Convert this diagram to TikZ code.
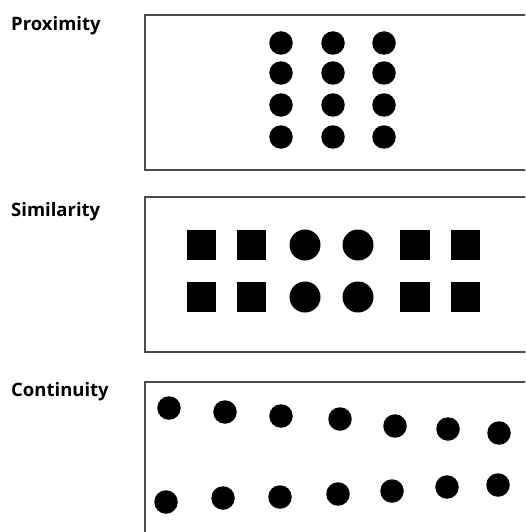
\documentclass[tikz,border=0pt]{standalone}
\usepackage{fontspec}
\setmainfont{Open Sans}
\begin{document}
\begin{tikzpicture}[x=1pt,y=-1pt,
  panel/.style={draw=black!70,line width=2pt},
  dot/.style={circle,fill=black,inner sep=0pt,minimum size=23.5pt},
  bigdot/.style={circle,fill=black,inner sep=0pt,minimum size=31pt},
  sq/.style={rectangle,fill=black,inner sep=0pt,minimum size=29.5pt},
  lbl/.style={anchor=west,inner sep=0pt,font=\fontsize{18.5pt}{20pt}\selectfont\bfseries}]
\useasboundingbox (0,0) rectangle (525,532);
\clip (0,0) rectangle (525,532);
\fill[white] (0,0) rectangle (525,532);
% labels
\node[lbl] (l1) at (11,26) {Proximity};
\node[lbl] (l2) at (11,212) {Similarity};
\node[lbl] (l3) at (11,392) {Continuity};
% panels
\draw[panel] (540,15.5) -- (144.5,15.5) -- (144.5,169.5) -- (540,169.5);
\draw[panel] (540,197) -- (144.5,197) -- (144.5,352) -- (540,352);
\draw[panel] (540,381.5) -- (144.5,381.5) -- (144.5,545);
% proximity
\foreach \c [count=\i] in {281,333,384}{
  \foreach \r [count=\j] in {43,73,105,137}{
    \node[dot] (p\i\j) at (\c,\r) {};
  }
}
% similarity
\foreach \r [count=\j] in {245,297}{
  \node[sq] (sa\j) at (201.5,\r) {};
  \node[sq] (sb\j) at (251.5,\r) {};
  \node[bigdot] (sc\j) at (305,\r) {};
  \node[bigdot] (sd\j) at (358,\r) {};
  \node[sq] (se\j) at (415,\r) {};
  \node[sq] (sf\j) at (465.5,\r) {};
}
% continuity
\foreach \x/\y [count=\i] in {169/408,225/412,281/416,340/419,395/426,448/429,499/433}{
  \node[dot] (ct\i) at (\x,\y) {};
}
\foreach \x/\y [count=\i] in {166/502,223/498,280/497,338/494,392/491,447/487,498/485}{
  \node[dot] (cb\i) at (\x,\y) {};
}
\end{tikzpicture}
\end{document}
